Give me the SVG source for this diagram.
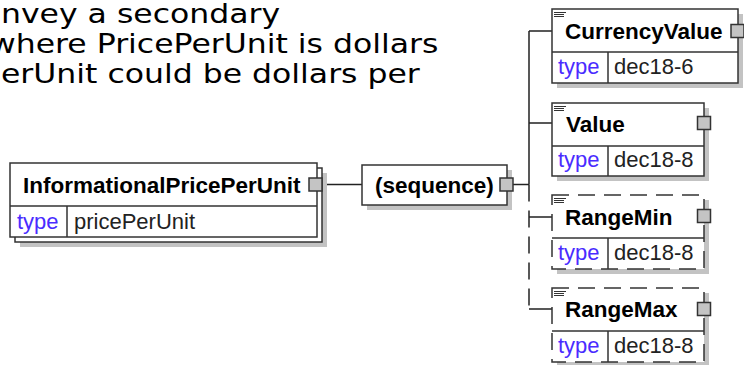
<svg xmlns="http://www.w3.org/2000/svg" width="744" height="365" viewBox="0 0 744 365">
<style>
.bg{fill:#fff}
.box{fill:#fff;stroke:#333;stroke-width:1.5}
.opt{stroke-dasharray:17 9}
.ln{stroke:#333;stroke-width:1.5;fill:none}
.shadow{fill:#c3c3c3}
.sq{fill:#c4c4c4;stroke:#333;stroke-width:1.5}
.ico{stroke:#333;stroke-width:1;fill:none}
.name{font-family:"Liberation Sans",Arial,sans-serif;font-weight:bold;font-size:22.5px;fill:#000}
.kw{font-family:"Liberation Sans",Arial,sans-serif;font-size:22px;fill:#4a2cff}
.val{font-family:"Liberation Sans",Arial,sans-serif;font-size:22px;fill:#222}
.con{stroke:#222;stroke-width:1.5;fill:none}
.dash{stroke-dasharray:17 9}
.doc{font-family:"DejaVu Sans",Verdana,sans-serif;font-size:27px;fill:#000}
</style>
<rect class="bg" x="0" y="0" width="744" height="365"/>
<g id="doc-text" transform="scale(1.1667,1)">
<text class="doc" x="0.86" y="23">nvey a secondary</text>
<text class="doc" x="-8.6" y="53">where PricePerUnit is dollars</text>
<text class="doc" x="0.86" y="83">erUnit could be dollars per</text>
</g>
<g id="connectors">
<path class="con" d="M322,184.5 H362"/>
<path class="con" d="M513,184.5 H529"/>
<path class="con" d="M529,31 V184.5 M529,31 H552 M529,123 H552"/>
<path class="con dash" d="M529,184.5 V309"/>
<path class="con" d="M529,217 H552 M529,309 H552"/>
</g>
<g id="node-InformationalPricePerUnit">
<rect class="shadow" x="20" y="173" width="307" height="74"/>
<rect class="box" x="15" y="168" width="307" height="74"/>
<rect class="box" x="10" y="163" width="307" height="74"/>
<path class="ln" d="M10,206 H317 M67,206 V237"/>
<rect class="sq" x="309" y="178" width="13" height="13"/>
<text class="name" x="23" y="193">InformationalPricePerUnit</text>
<text class="kw" x="17" y="229">type</text>
<text class="val" x="74" y="229">pricePerUnit</text>
</g>
<g id="node-sequence">
<rect class="shadow" x="367" y="170" width="145" height="40"/>
<rect class="box" x="362" y="165" width="145" height="40"/>
<rect class="sq" x="500" y="178" width="13" height="13"/>
<text class="name" x="375" y="193">(sequence)</text>
</g>
<g id="node-CurrencyValue">
<rect class="shadow" x="557" y="14" width="186" height="74"/>
<rect class="box" x="552" y="9" width="186" height="74"/>
<path class="ln" d="M552,52 H738 M608,52 V83"/>
<path class="ico" d="M554,12.5 H566 M554,14.5 H564 M554,16.5 H564"/>
<rect class="sq" x="731" y="24.5" width="13" height="13"/>
<text class="name" x="565" y="39">CurrencyValue</text>
<text class="kw" x="558" y="74">type</text>
<text class="val" x="614" y="74">dec18-6</text>
</g>
<g id="node-Value">
<rect class="shadow" x="557" y="108" width="152" height="73"/>
<rect class="box" x="552" y="103" width="152" height="73"/>
<path class="ln" d="M552,146 H704 M608,146 V176"/>
<path class="ico" d="M554,106.5 H566 M554,108.5 H564 M554,110.5 H564"/>
<rect class="sq" x="697.5" y="116.5" width="13" height="13"/>
<text class="name" x="566" y="132">Value</text>
<text class="kw" x="558" y="167">type</text>
<text class="val" x="614" y="167">dec18-8</text>
</g>
<g id="node-RangeMin">
<rect class="shadow" x="557" y="200" width="152" height="74"/>
<rect class="box opt" x="552" y="195" width="152" height="74"/>
<path class="ln" d="M552,238 H704 M608,238 V269"/>
<path class="ico" d="M554,198.5 H566 M554,200.5 H564 M554,202.5 H564"/>
<rect class="sq" x="697.5" y="209.5" width="13" height="13"/>
<text class="name" x="565" y="225">RangeMin</text>
<text class="kw" x="558" y="260">type</text>
<text class="val" x="614" y="260">dec18-8</text>
</g>
<g id="node-RangeMax">
<rect class="shadow" x="557" y="293" width="152" height="74"/>
<rect class="box opt" x="552" y="288" width="152" height="74"/>
<path class="ln" d="M552,331 H704 M608,331 V362"/>
<path class="ico" d="M554,291.5 H566 M554,293.5 H564 M554,295.5 H564"/>
<rect class="sq" x="697.5" y="302.5" width="13" height="13"/>
<text class="name" x="565" y="317">RangeMax</text>
<text class="kw" x="558" y="353">type</text>
<text class="val" x="614" y="353">dec18-8</text>
</g>
</svg>
